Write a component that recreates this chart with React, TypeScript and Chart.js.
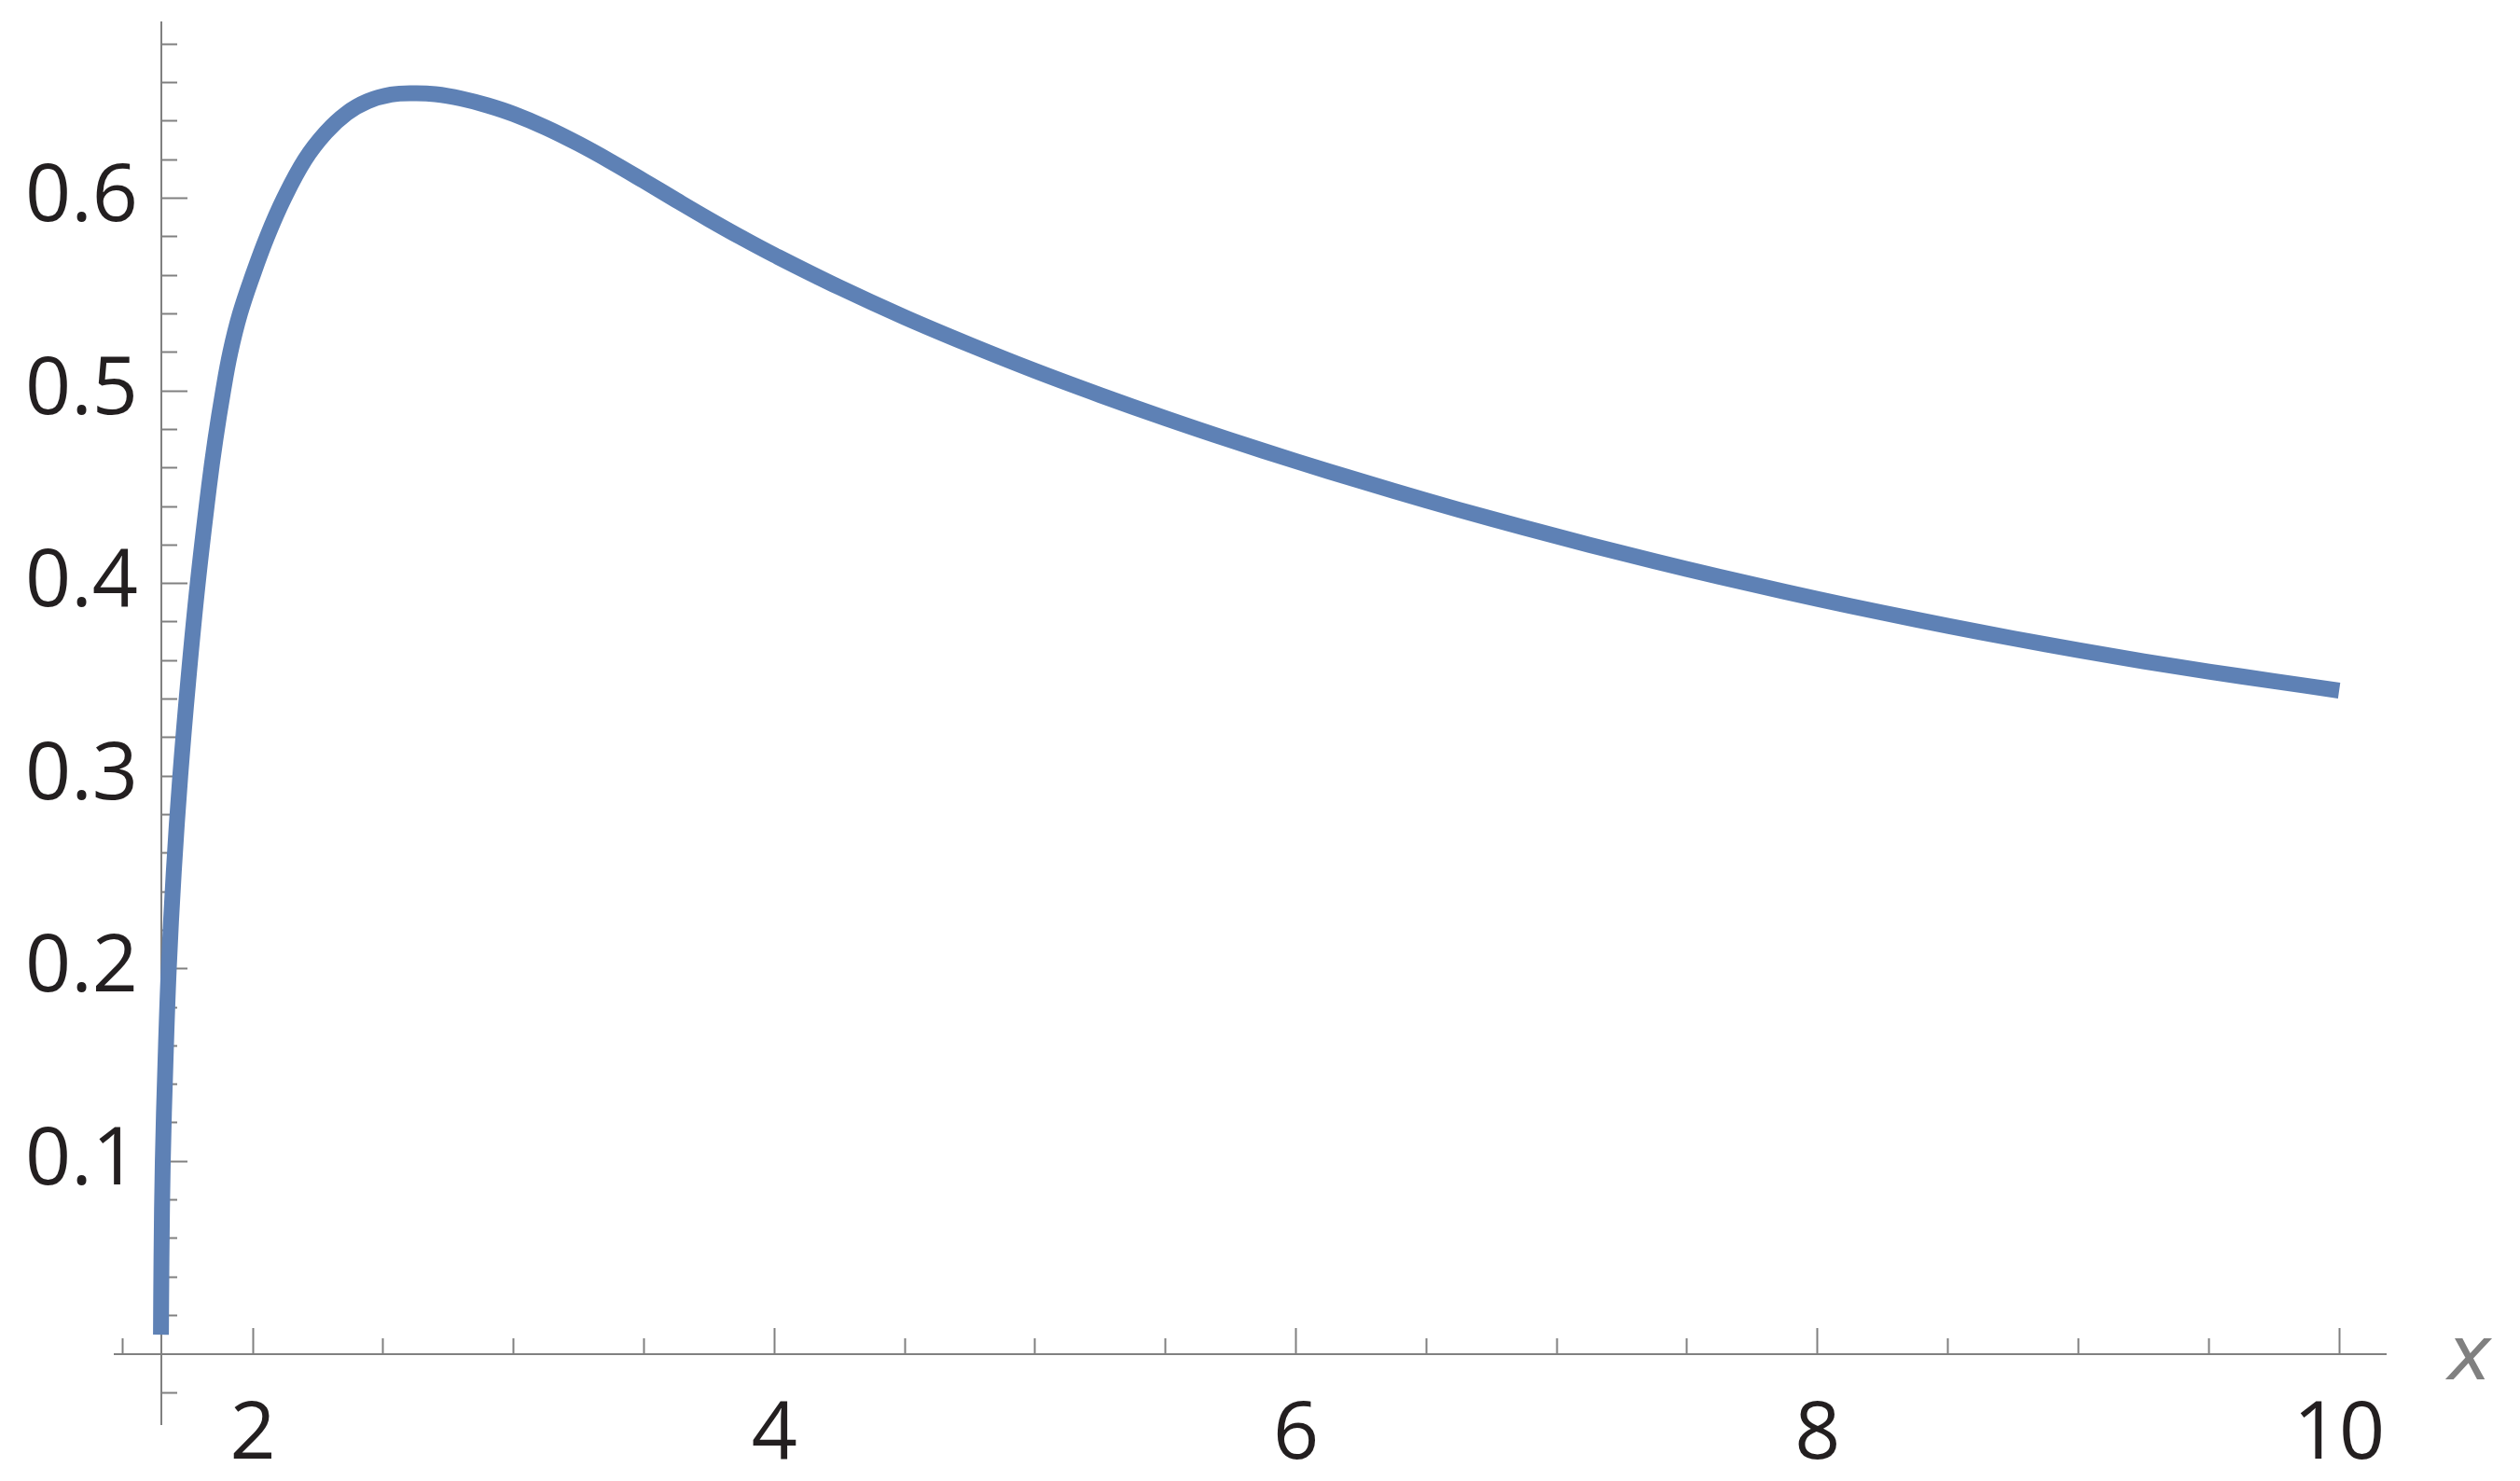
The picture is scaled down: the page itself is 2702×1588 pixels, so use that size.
import React, { useEffect, useRef } from "react";
import { Chart, registerables } from "chart.js";

Chart.register(...registerables);

// ---- data ----
const xValues = [
  1.648, 1.65, 1.655, 1.665, 1.678, 1.697, 1.722, 1.753, 1.789, 1.832,
  1.857, 1.8865, 1.914, 1.951, 2.0, 2.055, 2.12, 2.2, 2.28, 2.36,
  2.44, 2.53, 2.62, 2.7, 2.8, 2.9, 3.0, 3.125, 3.25, 3.375,
  3.5, 3.625, 3.75, 3.875, 4.0, 4.25, 4.5, 4.75, 5.0, 5.25,
  5.5, 5.75, 6.0, 6.25, 6.5, 6.75, 7.0, 7.25, 7.5, 7.75,
  8.0, 8.25, 8.5, 8.75, 9.0, 9.25, 9.5, 9.75, 10.0,
];
const yValues = [
  0.01, 0.05, 0.1, 0.15, 0.2, 0.25, 0.3, 0.35, 0.4, 0.45,
  0.475, 0.5, 0.52, 0.54, 0.56, 0.58, 0.6, 0.62, 0.6341, 0.6441,
  0.6503, 0.6538, 0.6545, 0.654, 0.6517, 0.6482, 0.6437, 0.6366, 0.6282, 0.6189,
  0.609, 0.5989, 0.589, 0.5795, 0.5705, 0.5537, 0.5382, 0.5239, 0.5104, 0.4978,
  0.4858, 0.4744, 0.4635, 0.4531, 0.4431, 0.4336, 0.4245, 0.4158, 0.4075, 0.3996,
  0.392, 0.3848, 0.378, 0.3715, 0.3654, 0.3596, 0.3543, 0.3493, 0.3444,
];

const xMajorTicks = [2, 4, 6, 8, 10];
const xTickLabels = ["2", "4", "6", "8", "10"];
const xMinorTicks = [1.5, 2.5, 3, 3.5, 4.5, 5, 5.5, 6.5, 7, 7.5, 8.5, 9, 9.5];

const yMajorTicks = [0.1, 0.2, 0.3, 0.4, 0.5, 0.6];
const yTickLabels = ["0.1", "0.2", "0.3", "0.4", "0.5", "0.6"];
const yMinorTicks = [
  -0.02, 0.02, 0.04, 0.06, 0.08, 0.12, 0.14, 0.16, 0.18, 0.22, 0.24, 0.26, 0.28,
  0.32, 0.34, 0.36, 0.38, 0.42, 0.44, 0.46, 0.48, 0.52, 0.54, 0.56, 0.58, 0.62,
  0.64, 0.66, 0.68,
];

const xAxisTitle = "x";

// axis ranges / crossing points
const xMin = 1.4707;
const xMax = 10.1785;
const yMin = -0.0364;
const yMax = 0.6913;
const yAxisAtX = 1.649;
const yLabelsAtX = 1.56;
const xAxisAtY = 0;

const FONT = '"Open Sans", "Noto Sans", sans-serif';
const TITLE_FONT = '"DejaVu Sans", "Open Sans", sans-serif';
const AXIS_COLOR = "#808080";
const LABEL_COLOR = "#231f20";
const LINE_COLOR = "#5e81b5";

const zeroPad = (s: any) => {
  s.paddingTop = 0;
  s.paddingBottom = 0;
  s.paddingLeft = 0;
  s.paddingRight = 0;
};

const setTicks = (vals: number[]) => (s: any) => {
  s.ticks = vals.map((v) => ({ value: v }));
};

const axisTitlePlugin = {
  id: "axisTitlePlugin",
  afterDraw(chart: any) {
    const { ctx, scales } = chart;
    const xs = scales.x;
    const ys = scales.y;
    const y0 = ys.getPixelForValue(xAxisAtY);
    ctx.save();
    ctx.font = `oblique 80px ${TITLE_FONT}`;
    ctx.fillStyle = AXIS_COLOR;
    ctx.textAlign = "left";
    ctx.textBaseline = "alphabetic";
    ctx.fillText(xAxisTitle, xs.right + 66, y0 + 27);
    ctx.restore();
  },
};

export default function App() {
  const ref = useRef<HTMLCanvasElement | null>(null);

  useEffect(() => {
    if (!ref.current) return;
    const common = { type: "linear" as const, bounds: "data" as const, afterFit: zeroPad };
    const chart = new Chart(ref.current, {
      type: "line",
      data: {
        datasets: [
          {
            data: xValues.map((x, i) => ({ x, y: yValues[i] })),
            borderColor: LINE_COLOR,
            borderWidth: 17,
            pointRadius: 0,
            fill: false,
            tension: 0.4,
            xAxisID: "x",
            yAxisID: "y",
          },
        ],
      },
      options: {
        animation: false,
        responsive: false,
        devicePixelRatio: 1,
        layout: { padding: { left: 123, right: 144, top: 24, bottom: 61 }, autoPadding: false } as any,
        plugins: { legend: { display: false }, tooltip: { enabled: false }, title: { display: false } },
        scales: {
          x: {
            ...common,
            axis: "x",
            position: { y: xAxisAtY },
            min: xMin,
            max: xMax,
            afterBuildTicks: setTicks(xMajorTicks),
            grid: { display: true, drawOnChartArea: false, drawTicks: true, tickLength: -29, tickWidth: 2, tickColor: AXIS_COLOR },
            border: { display: true, color: AXIS_COLOR, width: 2 },
            ticks: {
              display: true,
              autoSkip: false,
              maxRotation: 0,
              minRotation: 0,
              padding: 65,
              color: LABEL_COLOR,
              font: { family: FONT, size: 86 },
              callback: (_v: any, i: number) => xTickLabels[i],
            },
          } as any,
          xMinor: {
            ...common,
            axis: "x",
            position: { y: xAxisAtY },
            min: xMin,
            max: xMax,
            afterBuildTicks: setTicks(xMinorTicks),
            grid: { display: true, drawOnChartArea: false, drawTicks: true, tickLength: -17, tickWidth: 2, tickColor: AXIS_COLOR },
            border: { display: false },
            ticks: { display: false },
          } as any,
          y: {
            ...common,
            axis: "y",
            position: { x: yAxisAtX },
            min: yMin,
            max: yMax,
            afterBuildTicks: setTicks(yMajorTicks),
            grid: { display: true, drawOnChartArea: false, drawTicks: true, tickLength: -29, tickWidth: 2, tickColor: AXIS_COLOR },
            border: { display: true, color: AXIS_COLOR, width: 2 },
            ticks: { display: false },
          } as any,
          yMinor: {
            ...common,
            axis: "y",
            position: { x: yAxisAtX },
            min: yMin,
            max: yMax,
            afterBuildTicks: setTicks(yMinorTicks),
            grid: { display: true, drawOnChartArea: false, drawTicks: true, tickLength: -17, tickWidth: 2, tickColor: AXIS_COLOR },
            border: { display: false },
            ticks: { display: false },
          } as any,
          yLabels: {
            ...common,
            axis: "y",
            position: { x: yLabelsAtX },
            min: yMin,
            max: yMax,
            afterBuildTicks: setTicks(yMajorTicks),
            grid: { display: false },
            border: { display: false },
            ticks: {
              display: true,
              autoSkip: false,
              padding: 0,
              color: LABEL_COLOR,
              font: { family: FONT, size: 86 },
              callback: (_v: any, i: number) => yTickLabels[i],
            },
          } as any,
        },
      },
      plugins: [axisTitlePlugin],
    });
    return () => chart.destroy();
  }, []);

  return (
    <div style={{ position: "absolute", left: 0, top: 0, width: 2702, height: 1588, background: "#fff" }}>
      <canvas ref={ref} width={2702} height={1588} style={{ display: "block" }} />
    </div>
  );
}
